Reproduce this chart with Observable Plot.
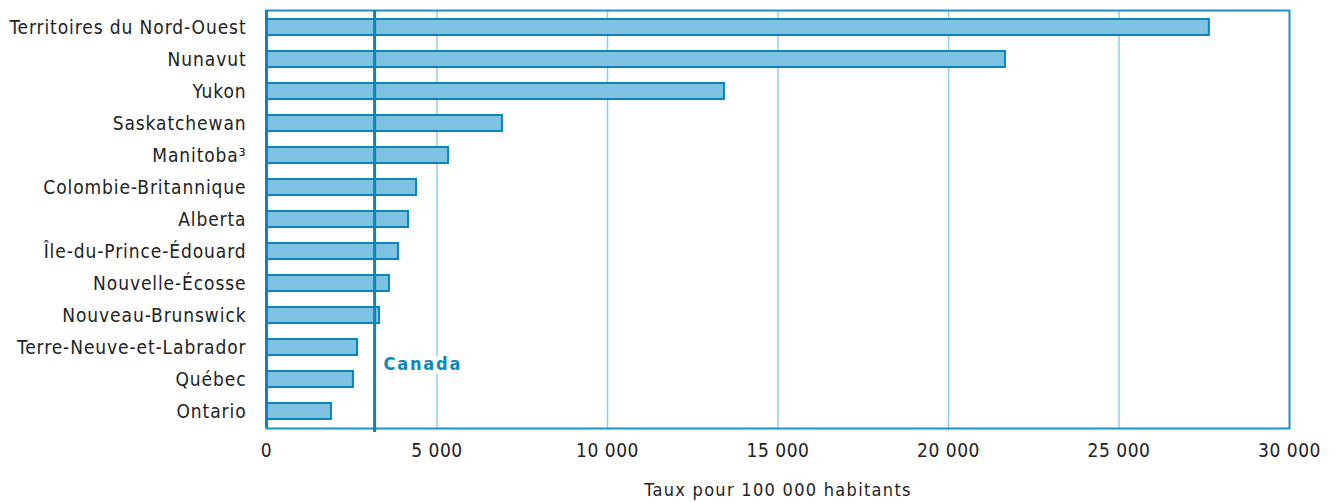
<!DOCTYPE html>
<html>
<head>
<meta charset="utf-8">
<script src="https://cdn.jsdelivr.net/npm/d3@7"></script>
<script src="https://cdn.jsdelivr.net/npm/@observablehq/plot@0.6"></script>
<style>
  html, body { margin: 0; padding: 0; background: #fff; }
  svg { font-family: "Liberation Sans Narrow", "DejaVu Sans Condensed", "Roboto", sans-serif; }
</style>
</head>
<body>
<div id="chart"></div>
<script>
const provinces = [
  "Territoires du Nord-Ouest", "Nunavut", "Yukon", "Saskatchewan", "Manitoba³",
  "Colombie-Britannique", "Alberta", "Île-du-Prince-Édouard", "Nouvelle-Écosse",
  "Nouveau-Brunswick", "Terre-Neuve-et-Labrador", "Québec", "Ontario"
];
const rates = [27650, 21670, 13430, 6920, 5340, 4400, 4165, 3870, 3605, 3315, 2670, 2550, 1905];
const canadaRate = 3170;
const xTicks = [0, 5000, 10000, 15000, 20000, 25000, 30000];
const gridTicks = [5000, 10000, 15000, 20000, 25000];
const xTitle = "Taux pour 100 000 habitants";
const canadaLabel = "Canada";

const data = provinces.map((p, i) => ({province: p, rate: rates[i]}));
const fmt = d => d3.format(",")(d).replace(/,/g, " ");

const chart = Plot.plot({
  width: 1336,
  height: 502,
  marginLeft: 266,
  marginRight: 47,
  marginTop: 10,
  marginBottom: 74,
  style: {fontSize: "19px", color: "#222", background: "#fff"},
  x: {domain: [0, 30000], ticks: xTicks, tickFormat: fmt, label: null},
  y: {domain: provinces, padding: 0.5, paddingOuter: 0.25, label: null},
  marks: [
    Plot.ruleX(gridTicks, {stroke: "#8ccbea", strokeWidth: 1.5}),
    Plot.frame({stroke: "#1a90c8", strokeWidth: 2}),
    Plot.barX(data, {x: "rate", y: "province", fill: "#7fc2e2", stroke: "#0a86bc", strokeWidth: 2}),
    Plot.text([canadaLabel], {
      x: () => canadaRate, y: () => "Terre-Neuve-et-Labrador", dx: 9, dy: 17,
      textAnchor: "start", fill: "#0a88bf", fontWeight: "bold", fontSize: 18,
      stroke: "white", strokeWidth: 9, paintOrder: "stroke"
    }),
    Plot.ruleX([0], {stroke: "#0a86bc", strokeWidth: 3}),
    Plot.ruleX([canadaRate], {stroke: "#0a84b8", strokeWidth: 3, insetBottom: -4}),
    Plot.axisX({ticks: xTicks, tickFormat: fmt, tickSize: 0, tickPadding: 15, fontSize: 19, label: null}),
    Plot.axisY({tickSize: 0, tickPadding: 20, fontSize: 19, label: null}),
    Plot.text([xTitle], {frameAnchor: "bottom", dy: 67, lineAnchor: "bottom", fontSize: 18, fill: "#222"})
  ]
});
document.getElementById("chart").appendChild(chart);
// letter-spacing tweaks to mimic the condensed, tracked typeface of the original
chart.querySelectorAll("g[aria-label='y-axis tick label'] text").forEach(t => t.setAttribute("letter-spacing", "0.9"));
chart.querySelectorAll("g[aria-label='x-axis tick label'] text").forEach(t => t.setAttribute("letter-spacing", "0.5"));
chart.querySelectorAll("text").forEach(t => {
  if (t.textContent === canadaLabel) t.setAttribute("letter-spacing", "1.8");
  if (t.textContent === xTitle) t.setAttribute("letter-spacing", "1.3");
});
</script>
</body>
</html>
